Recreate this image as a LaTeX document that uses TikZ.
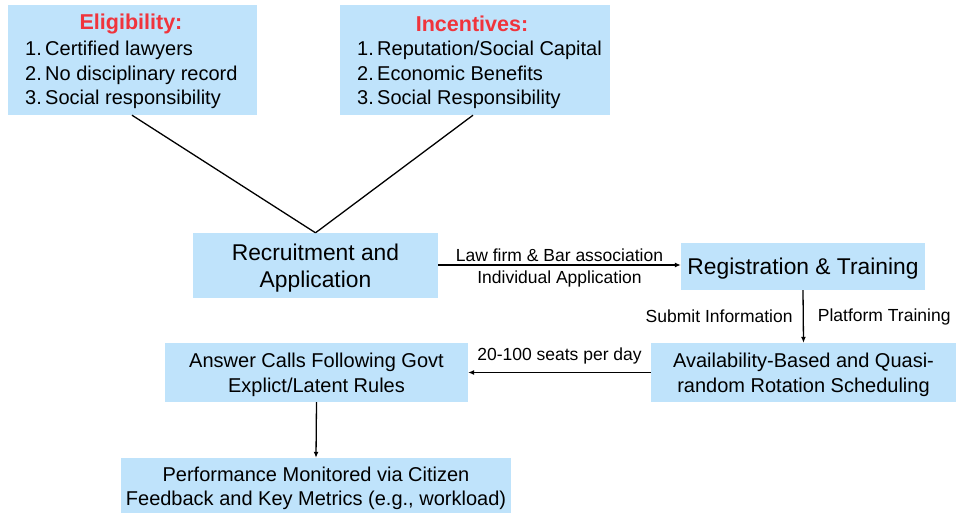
\documentclass[tikz,border=0pt]{standalone}
\usepackage{fontspec}
\setmainfont{Liberation Sans}
\usetikzlibrary{arrows.meta}
\definecolor{boxblue}{HTML}{BFE3FB}
\definecolor{titlered}{HTML}{F0343C}
\begin{document}
\begin{tikzpicture}[x=1pt,y=-1pt,
  box/.style={fill=boxblue,draw=none,inner sep=0pt},
  boxtext/.style={inner sep=0pt,align=center,font=\fontsize{20}{24.5}\selectfont},
  lbl/.style={inner sep=0pt,font=\fontsize{17.5}{20}\selectfont},
  conn/.style={line width=1.3pt,-{Latex[length=6pt,width=5pt]}},
  plain/.style={line width=1.3pt}]
\useasboundingbox (0,0) rectangle (959,513);
\node[box,minimum width=249pt,minimum height=110pt] (elig) at (132,60) {};
\node[box,minimum width=270pt,minimum height=110pt] (inc) at (475,60) {};
\node[font=\fontsize{21.5}{25}\selectfont\bfseries,text=titlered,inner sep=0pt] (eligt) at (131,24) {Eligibility:};
\node[font=\fontsize{21.5}{25}\selectfont\bfseries,text=titlered,inner sep=0pt] (inct) at (472,24) {Incentives:};
\node[font=\fontsize{20}{24.5}\selectfont,align=left,anchor=north west,inner sep=0pt] (eligl) at (25,41) {1.\,Certified lawyers\\2.\,No disciplinary record\\3.\,Social responsibility};
\node[font=\fontsize{20}{24.5}\selectfont,align=left,anchor=north west,inner sep=0pt] (incl) at (357,41) {1.\,Reputation/Social Capital\\2.\,Economic Benefits\\3.\,Social Responsibility};
\node[box,minimum width=245pt,minimum height=65pt] (recr) at (315.5,265.5) {};
\node[boxtext,font=\fontsize{22.8}{27}\selectfont] (recrt) at ([yshift=-3pt]recr.center) {Recruitment and\\Application};
\node[box,minimum width=244pt,minimum height=47pt] (reg) at (803,266.5) {};
\node[boxtext,font=\fontsize{22.8}{27}\selectfont] (regt) at ([yshift=-2pt]reg.center) {Registration \& Training};
\node[box,minimum width=305pt,minimum height=59pt] (avail) at (803.5,372.5) {};
\node[boxtext] (availt) at ([yshift=-2.5pt]avail.center) {Availability-Based and Quasi-\\random Rotation Scheduling};
\node[box,minimum width=303pt,minimum height=59pt] (ans) at (316.5,372.5) {};
\node[boxtext] (anst) at ([yshift=-2.5pt]ans.center) {Answer Calls Following Govt\\Explict/Latent Rules};
\node[box,minimum width=390pt,minimum height=55pt] (perf) at (316,485.5) {};
\node[boxtext] (perft) at ([yshift=-3pt]perf.center) {Performance Monitored via Citizen\\Feedback and Key Metrics (e.g., workload)};
\draw[plain] (elig.south) -- (recr.north);
\draw[plain] (inc.south) ++(-2,0) coordinate (incb) -- (recr.north);
\draw[conn] (recr.east |- 0,265) -- (reg.west |- 0,265)
  node[lbl,midway,above=3pt] (l1) {Law firm \& Bar association}
  node[lbl,midway,below=5pt] (l2) {Individual Application};
\draw[conn] (reg.south) -- (avail.north)
  node[lbl,midway,left=10pt] (l3) {Submit Information}
  node[lbl,midway,right=14pt] (l4) {Platform Training};
\draw[conn] (avail.west) -- (ans.east)
  node[lbl,midway,above=8pt] (l5) {20-100 seats per day};
\draw[conn] (ans.south) -- (perf.north);
\end{tikzpicture}
\end{document}
